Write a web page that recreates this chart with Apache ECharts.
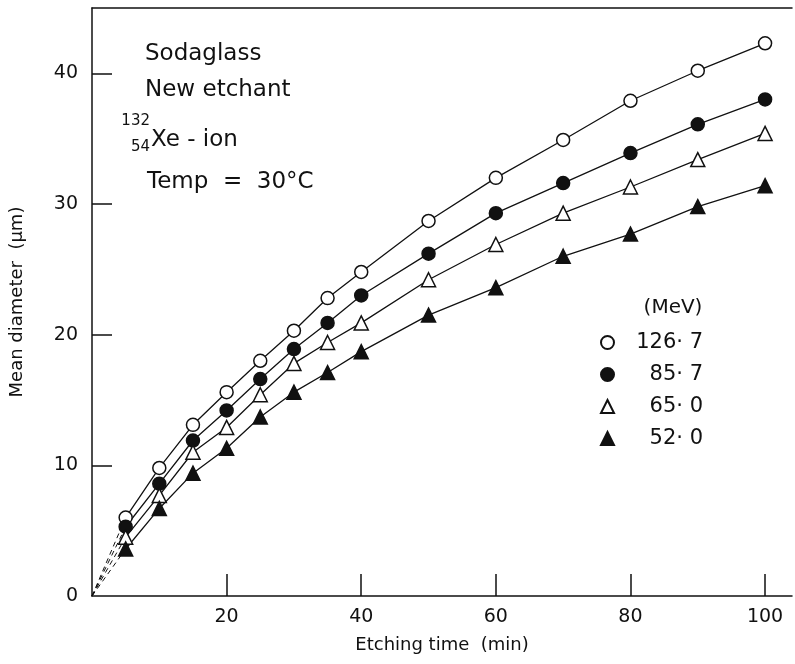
<!DOCTYPE html>
<html>
<head>
<meta charset="utf-8">
<script src="https://cdn.jsdelivr.net/npm/echarts@6/dist/echarts.min.js"></script>
<style>
html, body { margin: 0; padding: 0; background: #fff; }
#chart { width: 795px; height: 664px; }
</style>
</head>
<body>
<div id="chart"></div>
<script>
// etching time (min)
var times = [5, 10, 15, 20, 25, 30, 35, 40, 50, 60, 70, 80, 90, 100];
// mean diameter (um) per ion energy
var d1267 = [6.0, 9.8, 13.1, 15.6, 18.0, 20.3, 22.8, 24.8, 28.7, 32.0, 34.9, 37.9, 40.2, 42.3];
var d857 = [5.3, 8.6, 11.9, 14.2, 16.6, 18.9, 20.9, 23.0, 26.2, 29.3, 31.6, 33.9, 36.1, 38.0];
var d650 = [4.5, 7.7, 11.0, 12.9, 15.4, 17.8, 19.4, 20.9, 24.2, 26.9, 29.3, 31.3, 33.4, 35.4];
var d520 = [3.6, 6.7, 9.4, 11.3, 13.7, 15.6, 17.1, 18.7, 21.5, 23.6, 26.0, 27.7, 29.8, 31.4];
var energies = ['126· 7', '85· 7', '65· 0', '52· 0'];
var xTicks = [20, 40, 60, 80, 100];
var yTicks = [10, 20, 30, 40];
var yLabels = [0, 10, 20, 30, 40];

var font = 'DejaVu Sans';
var ink = '#111';

function pairs(ys) {
	var out = [];
	for (var i = 0; i < times.length; i++) {
		out.push([times[i], ys[i]]);
	}
	return out;
}

var sets = [
	{ name: energies[0], data: d1267, symbol: 'circle', fill: '#fff' },
	{ name: energies[1], data: d857, symbol: 'circle', fill: ink },
	{ name: energies[2], data: d650, symbol: 'triangle', fill: '#fff' },
	{ name: energies[3], data: d520, symbol: 'triangle', fill: ink }
];

var series = [];
// dashed extrapolation back to the origin
sets.forEach(function(s) {
	series.push({
		type: 'line',
		silent: true,
		symbol: 'none',
		data: [[0, 0], [times[0], s.data[0]]],
		lineStyle: { color: ink, width: 1, type: [5, 4] },
		z: 1
	});
});
sets.forEach(function(s) {
	series.push({
		name: s.name,
		type: 'line',
		data: pairs(s.data),
		smooth: false,
		symbol: s.symbol,
		symbolSize: s.symbol == 'circle' ? 13 : 14,
		showAllSymbol: true,
		lineStyle: { color: ink, width: 1.3 },
		itemStyle: { color: s.fill, borderColor: ink, borderWidth: 1.5, opacity: 1 },
		z: 3
	});
});

// legend shows the marker only, no line stub
var legendData = sets.map(function(s) {
	return { name: s.name, icon: s.symbol };
});

var chart = echarts.init(document.getElementById('chart'));
chart.setOption({
	backgroundColor: '#fff',
	animation: false,
	grid: { left: 92, top: 8, right: 3, bottom: 68 },
	legend: {
		data: legendData,
		orient: 'vertical',
		left: 600,
		top: 332,
		padding: 0,
		itemWidth: 13,
		itemHeight: 13,
		itemGap: 11,
		selectedMode: false,
		formatter: function(name) {
			return '{v|' + name + '}';
		},
		textStyle: {
			rich: {
				v: { width: 84, height: 24, align: 'right', fontFamily: font, fontSize: 21, color: ink }
			}
		}
	},
	xAxis: [{
		type: 'value',
		min: 0,
		max: 104,
		interval: 20,
		name: 'Etching time  (min)',
		nameLocation: 'middle',
		nameGap: 40,
		nameTextStyle: { fontFamily: font, fontSize: 18, color: ink },
		axisLine: { show: true, lineStyle: { color: ink, width: 1.5 } },
		axisTick: { show: true, inside: true, length: 22, customValues: xTicks, lineStyle: { color: ink, width: 1.5 } },
		axisLabel: { customValues: xTicks, fontFamily: font, fontSize: 19, color: ink, margin: 12 },
		splitLine: { show: false }
	}, {
		type: 'value',
		position: 'top',
		min: 0,
		max: 104,
		axisLine: { show: true, lineStyle: { color: ink, width: 1.5 } },
		axisTick: { show: false },
		axisLabel: { show: false },
		splitLine: { show: false }
	}],
	yAxis: {
		type: 'value',
		min: 0,
		max: 45,
		interval: 10,
		name: 'Mean diameter  (µm)',
		nameLocation: 'middle',
		nameGap: 66,
		nameTextStyle: { fontFamily: font, fontSize: 18, color: ink },
		axisLine: { show: true, lineStyle: { color: ink, width: 1.5 } },
		axisTick: { show: true, inside: true, length: 20, customValues: yTicks, lineStyle: { color: ink, width: 1.5 } },
		axisLabel: { customValues: yLabels, fontFamily: font, fontSize: 19, color: ink, margin: 14 },
		splitLine: { show: false }
	},
	graphic: [
		{ type: 'text', x: 145, y: 54, style: { text: 'Sodaglass', font: '23px "DejaVu Sans"', fill: ink, verticalAlign: 'middle' } },
		{ type: 'text', x: 145, y: 90, style: { text: 'New etchant', font: '23px "DejaVu Sans"', fill: ink, verticalAlign: 'middle' } },
		{ type: 'text', x: 150, y: 121, style: { text: '132', font: '15px "DejaVu Sans"', fill: ink, align: 'right', verticalAlign: 'middle' } },
		{ type: 'text', x: 150, y: 147, style: { text: '54', font: '15px "DejaVu Sans"', fill: ink, align: 'right', verticalAlign: 'middle' } },
		{ type: 'text', x: 151, y: 140, style: { text: 'Xe - ion', font: '23px "DejaVu Sans"', fill: ink, verticalAlign: 'middle' } },
		{ type: 'text', x: 147, y: 182, style: { text: 'Temp  =  30°C', font: '23px "DejaVu Sans"', fill: ink, verticalAlign: 'middle' } },
		{ type: 'text', x: 673, y: 308, style: { text: '(MeV)', font: '20px "DejaVu Sans"', fill: ink, align: 'center', verticalAlign: 'middle' } }
	],
	series: series
});
</script>
</body>
</html>
